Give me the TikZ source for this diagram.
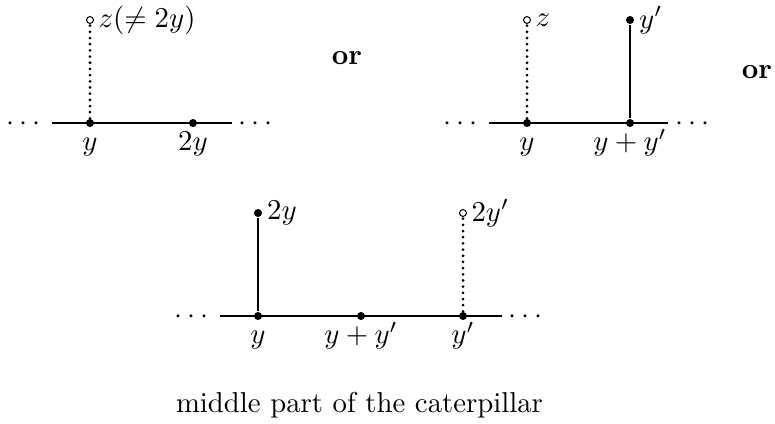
\documentclass[tikz,border=0pt]{standalone}
\usepackage{amsmath,amssymb}
\usetikzlibrary{positioning}

\begin{document}
\begin{tikzpicture}[x=0.3477pt,y=-0.3477pt,line width=.4pt,
  vtx/.style={circle,fill,inner sep=0pt,minimum size=2.8pt},
  hol/.style={circle,draw,line width=.35pt,fill=white,inner sep=0pt,minimum size=2.4pt,
    path picture={\fill (path picture bounding box.center) circle (.45pt);}},
  dotline/.style={line width=1.05pt,line cap=round,dash pattern=on 0pt off 2.15pt},
  vlab/.style={anchor=base,yshift=-9.6pt},
  ell/.style={anchor=base,yshift=-2.5pt}]
\path[use as bounding box] (0,0) rectangle (775,423);
% top left
\coordinate (s1) at (52,123);
\coordinate (t1) at (232,123);
\node[vtx] (a1) at (90,123) {};
\node[vtx] (b1) at (193,123) {};
\node[hol] (z1) at (90,20) {};
\node[right=1.4pt of z1,inner sep=0pt] (zl1) {$z(\neq 2y)$};
\node[ell] (dl1) at (26,123) {$\cdots$};
\node[ell] (dr1) at (258,123) {$\cdots$};
\node[vlab] (la1) at (90,123) {$y$};
\node[vlab] (lb1) at (193,123) {$2y$};
\draw (s1) -- (t1);
\draw[dotline] (a1) -- (z1);
\node[font=\bfseries] (or1) at (347,58) {or};
% top right
\coordinate (s2) at (489,123);
\coordinate (t2) at (668,123);
\node[vtx] (a2) at (527,123) {};
\node[vtx] (b2) at (630,123) {};
\node[hol] (z2) at (527,20) {};
\node[vtx] (c2) at (630,20) {};
\node[right=1.4pt of z2,inner sep=0pt] (zl2) {$z$};
\node[right=1.4pt of c2,inner sep=0pt] (cl2) {$y'$};
\node[ell] (dl2) at (463,123) {$\cdots$};
\node[ell] (dr2) at (695,123) {$\cdots$};
\node[vlab] (la2) at (527,123) {$y$};
\node[vlab] (lb2) at (630,123) {$y+y'$};
\draw (s2) -- (t2);
\draw[dotline] (a2) -- (z2);
\draw (b2) -- (c2);
\node[font=\bfseries] (or2) at (757,72) {or};
% bottom
\coordinate (s3) at (220,316);
\coordinate (t3) at (502,316);
\node[vtx] (a3) at (258,316) {};
\node[vtx] (b3) at (361,316) {};
\node[vtx] (c3) at (463,316) {};
\node[vtx] (u3) at (258,213) {};
\node[hol] (w3) at (463,213) {};
\node[right=1.4pt of u3,inner sep=0pt] (ul3) {$2y$};
\node[right=1.4pt of w3,inner sep=0pt] (wl3) {$2y'$};
\node[ell] (dl3) at (194,316) {$\cdots$};
\node[ell] (dr3) at (528,316) {$\cdots$};
\node[vlab] (la3) at (258,316) {$y$};
\node[vlab] (lb3) at (361,316) {$y+y'$};
\node[vlab] (lc3) at (463,316) {$y'$};
\draw (s3) -- (t3);
\draw (a3) -- (u3);
\draw[dotline] (c3) -- (w3);
\node[anchor=base] (cap) at (359.5,412) {middle part of the caterpillar};
\end{tikzpicture}
\end{document}
